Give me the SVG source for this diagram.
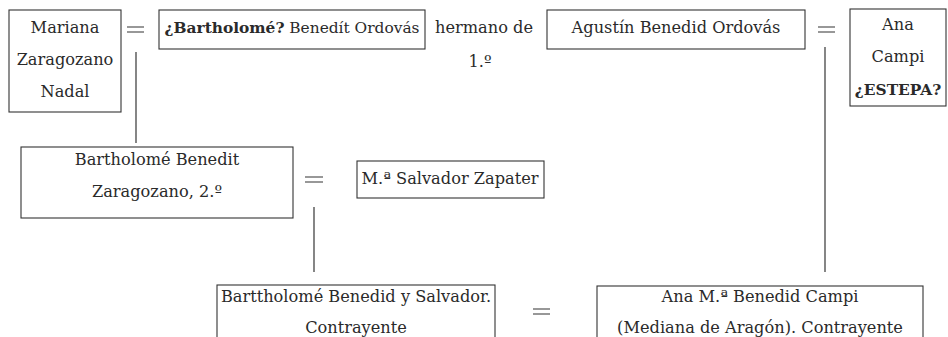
<svg xmlns="http://www.w3.org/2000/svg" width="948" height="337" viewBox="0 0 948 337">
<style>
.box{fill:#fff;stroke:#333;stroke-width:1.1}
.t{font-family:"DejaVu Serif","Liberation Serif",serif;font-size:16.2px;fill:#2a2a2a;text-anchor:middle}
.b{font-weight:bold}
.s{font-size:15.4px}
.ln{stroke:#444;stroke-width:1.3;fill:none}
.eq{stroke:#333;stroke-width:1.2}
</style>
<rect width="948" height="337" fill="#fff"/>
<g id="connectors">
<line class="ln" x1="136" y1="52" x2="136" y2="143"/>
<line class="ln" x1="825" y1="47" x2="825" y2="272"/>
<line class="ln" x1="314" y1="207" x2="314" y2="272"/>
<path class="eq" d="M127 27H144M127 32H144"/>
<path class="eq" d="M818 27H835M818 32H835"/>
<path class="eq" d="M305 177H323M305 182H323"/>
<path class="eq" d="M533 309H550M533 314H550"/>
<text class="t" x="484" y="33">hermano de</text>
<text class="t" x="480" y="67">1.º</text>
</g>
<g id="n1">
<rect class="box" x="9" y="10" width="112" height="102"/>
<text class="t" x="65" y="33">Mariana</text>
<text class="t" x="65" y="65">Zaragozano</text>
<text class="t" x="65" y="97">Nadal</text>
</g>
<g id="n2">
<rect class="box" x="159" y="10" width="266" height="39"/>
<text class="t s" x="292" y="33"><tspan class="b">¿Bartholomé?</tspan> Benedít Ordovás</text>
</g>
<g id="n3">
<rect class="box" x="547" y="10" width="258" height="39"/>
<text class="t" x="676" y="33">Agustín Benedid Ordovás</text>
</g>
<g id="n4">
<rect class="box" x="850" y="9" width="96" height="97"/>
<text class="t" x="898" y="30">Ana</text>
<text class="t" x="898" y="62">Campi</text>
<text class="t b s" x="898" y="95">¿ESTEPA?</text>
</g>
<g id="n5">
<rect class="box" x="21" y="147" width="272" height="71"/>
<text class="t" x="157" y="165">Bartholomé Benedit</text>
<text class="t" x="157" y="197">Zaragozano, 2.º</text>
</g>
<g id="n6">
<rect class="box" x="357" y="161" width="187" height="37"/>
<text class="t" x="450" y="184">M.ª Salvador Zapater</text>
</g>
<g id="n7">
<rect class="box" x="217" y="285" width="278" height="70"/>
<text class="t" x="356" y="302">Barttholomé Benedid y Salvador.</text>
<text class="t" x="356" y="333">Contrayente</text>
</g>
<g id="n8">
<rect class="box" x="597" y="286" width="326" height="70"/>
<text class="t" x="760" y="302">Ana M.ª Benedid Campi</text>
<text class="t" x="760" y="333">(Mediana de Aragón). Contrayente</text>
</g>
</svg>
